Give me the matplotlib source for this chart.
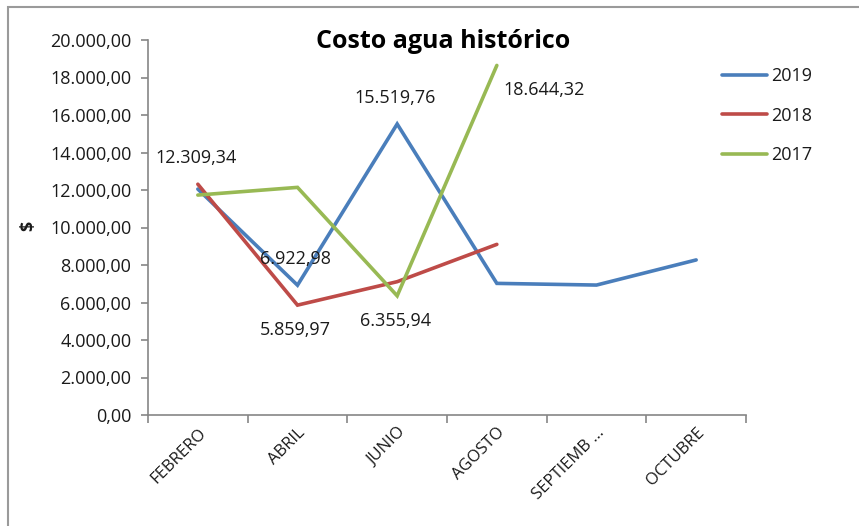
import matplotlib
matplotlib.use("Agg")
import matplotlib.pyplot as plt
from matplotlib.patches import Rectangle

# --- data -------------------------------------------------------------
MONTHS = ["FEBRERO", "ABRIL", "JUNIO", "AGOSTO", "SEPTIEMB ...", "OCTUBRE"]
COST_2019 = [12050, 6922.98, 15519.76, 7020, 6930, 8270]
COST_2018 = [12309.34, 5859.97, 7110, 9100]
COST_2017 = [11730, 12140, 6355.94, 18644.32]
YTICKS = [0, 2000, 4000, 6000, 8000, 10000, 12000, 14000, 16000, 18000, 20000]

# (year, month index, where the value label sits)
LABELS = [
    ("2018", 0, "above"),
    ("2019", 1, "above"),
    ("2019", 2, "above"),
    ("2017", 3, "right"),
    ("2018", 1, "below"),
    ("2017", 2, "below"),
]

SERIES = {"2019": COST_2019, "2018": COST_2018, "2017": COST_2017}
COLORS = {"2019": "#4a7ebb", "2018": "#be4b48", "2017": "#98b954"}
OFFSETS = {"above": (-2, 26), "below": (-2, -25), "right": (47, -25)}

plt.rcParams["font.family"] = ["Open Sans", "DejaVu Sans"]
GRAY = "#868686"
TXT = "#1a1a1a"
FS = 13


def es_format(v, decimals=2):
    """12309.34 -> '12.309,34'"""
    s = f"{v:,.{decimals}f}"
    return s.replace(",", "X").replace(".", ",").replace("X", ".")


fig = plt.figure(figsize=(8.59, 5.26), dpi=100)
ax = fig.add_axes([148 / 859, 1 - 415 / 526, (746 - 148) / 859, (415 - 40) / 526])

for year, values in SERIES.items():
    ax.plot(range(len(values)), values, color=COLORS[year], lw=2.6,
            solid_capstyle="round", solid_joinstyle="miter", label=year)

for year, i, where in LABELS:
    v = SERIES[year][i]
    ax.annotate(es_format(v), (i, v), xytext=OFFSETS[where],
                textcoords="offset pixels", ha="center", va="center",
                fontsize=FS, color=TXT)

# axes, Excel style: category ticks between the categories
ax.set_xlim(-0.5, len(MONTHS) - 0.5)
ax.set_ylim(0, 20000)
ax.set_yticks(YTICKS)
ax.set_yticklabels([es_format(t) for t in YTICKS], fontsize=FS, color=TXT)
ax.set_xticks([i - 0.5 for i in range(len(MONTHS) + 1)])
ax.set_xticklabels([])
ax.set_xticks(range(len(MONTHS)), minor=True)
ax.set_xticklabels(MONTHS, minor=True, rotation=45, ha="right",
                   rotation_mode="anchor", fontsize=12, color=TXT)
ax.tick_params(axis="x", which="major", length=6, color=GRAY, width=1.2)
ax.tick_params(axis="x", which="minor", length=0, pad=7)
ax.tick_params(axis="y", length=5, color=GRAY, width=1.2, pad=7)
for side in ["top", "right"]:
    ax.spines[side].set_visible(False)
for side in ["left", "bottom"]:
    ax.spines[side].set_color(GRAY)
    ax.spines[side].set_linewidth(1.2)

ax.set_ylabel("$", fontsize=FS, fontweight="bold", color=TXT)
ax.yaxis.set_label_coords(-0.185, 0.505)

fig.text(443 / 859, 1 - 42 / 526, "Costo agua histórico", ha="center",
         va="center", fontsize=18, fontweight="bold", color="black")

ax.legend(loc="upper left", bbox_to_anchor=(722 / 859, 1 - 67 / 526),
          bbox_transform=fig.transFigure, frameon=False, fontsize=FS,
          handlelength=2.5, handletextpad=0.2, labelspacing=1.2,
          borderpad=0, borderaxespad=0, labelcolor=TXT)

# chart area border (cut off on the right and at the bottom)
fig.patches.append(Rectangle((8 / 859, -0.2), 1.0, 1.2 - 7 / 526,
                             transform=fig.transFigure, fill=False,
                             edgecolor="#9a9a9a", lw=1.5))

fig.savefig("out.png", dpi=100)
